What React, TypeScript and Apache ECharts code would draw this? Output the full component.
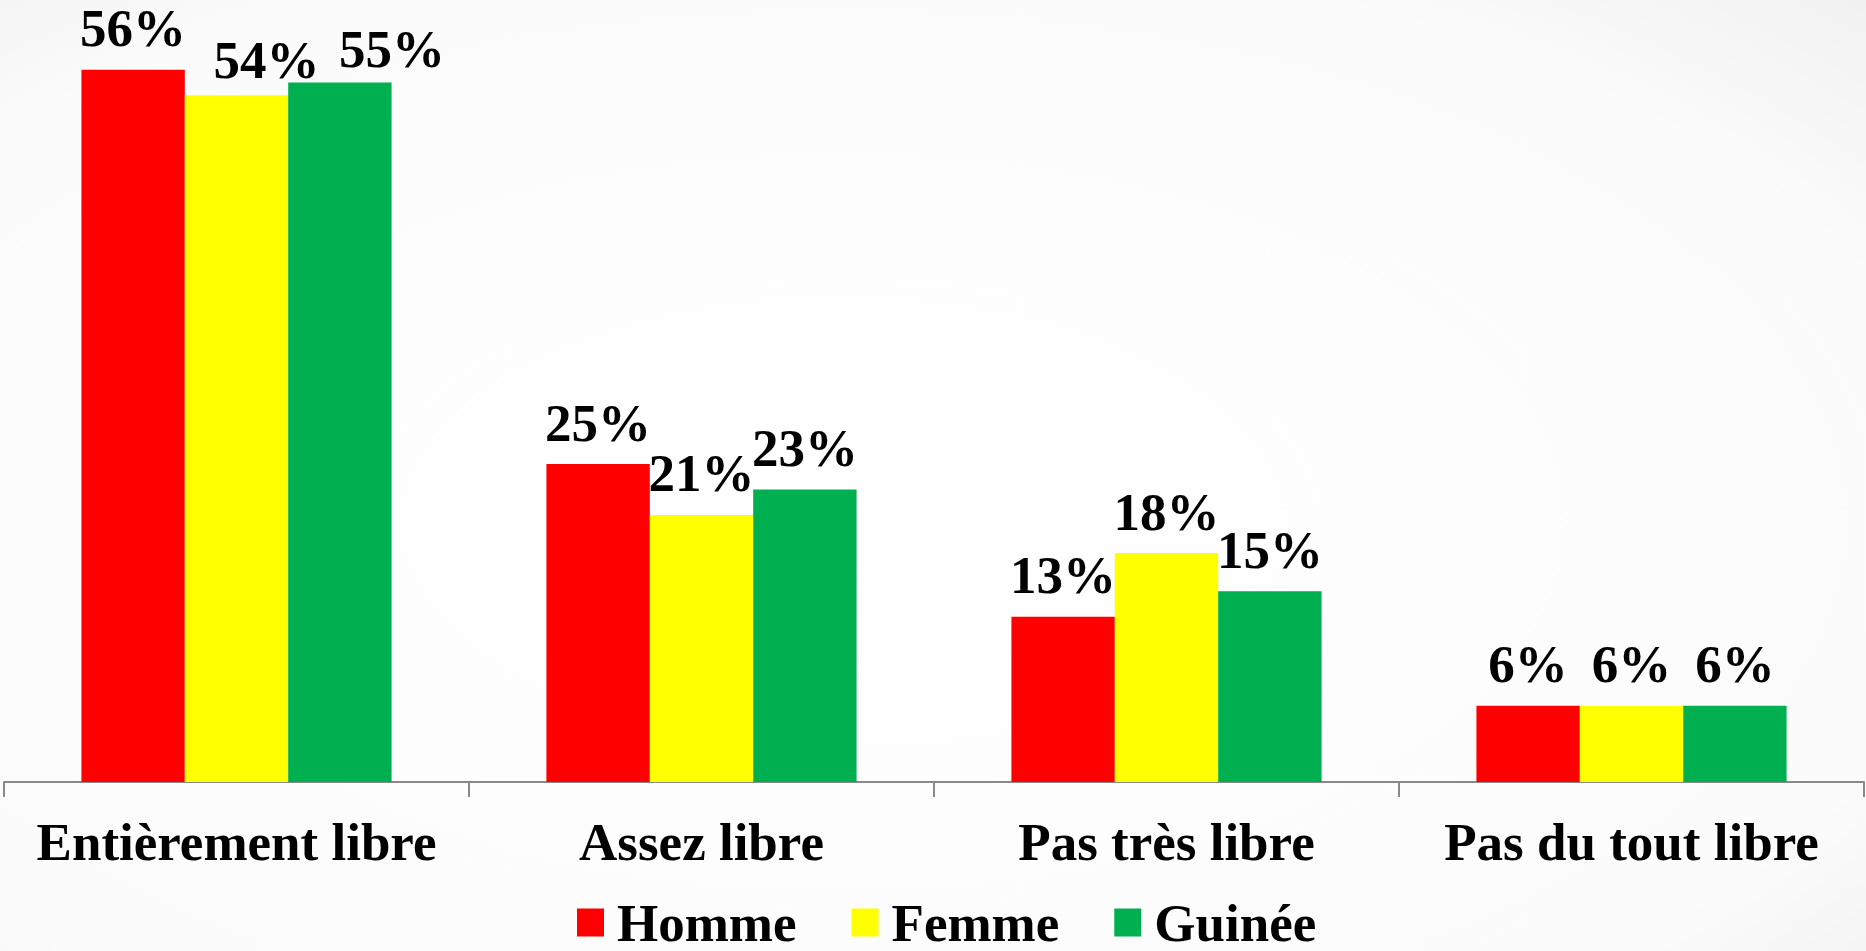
import React, { useEffect, useRef } from "react";
import * as echarts from "echarts";

const categories = ["Entièrement libre", "Assez libre", "Pas très libre", "Pas du tout libre"];
const seriesNames = ["Homme", "Femme", "Guinée"];
const homme = [56, 25, 13, 6];
const femme = [54, 21, 18, 6];
const guinee = [55, 23, 15, 6];
const colors = ["#FF0000", "#FFFF00", "#00B050"];

// manual label shifts seen in the reference (series index -> category index -> [dx, dy])
const labelShifts: Record<number, Record<number, [number, number]>> = {
  1: { 0: [30, 6] },
  2: { 0: [52, 8] },
};

const FONT = "'Liberation Serif', 'Times New Roman', serif";

export default function App() {
  const ref = useRef<HTMLDivElement>(null);
  useEffect(() => {
    document.body.style.margin = "0";
    if (!ref.current) return;
    const chart = echarts.init(ref.current, undefined, { renderer: "svg" });
    const all = [homme, femme, guinee];
    const series = all.map((vals, si) => ({
      name: seriesNames[si],
      type: "bar",
      barGap: "0%",
      barCategoryGap: "33.3%",
      itemStyle: { color: colors[si] },
      label: {
        show: true,
        position: "top",
        distance: 15,
        formatter: "{c}%",
        color: "#000",
        fontFamily: FONT,
        fontWeight: "bold",
        fontSize: 53,
      },
      data: vals.map((v, ci) => {
        const sh = labelShifts[si]?.[ci];
        return sh ? { value: v, label: { offset: sh } } : { value: v };
      }),
    }));
    chart.setOption({
      animation: false,
      backgroundColor: {
        type: "radial",
        x: 0.45,
        y: 0.55,
        r: 1.1,
        colorStops: [
          { offset: 0, color: "#ffffff" },
          { offset: 0.55, color: "#fbfbfb" },
          { offset: 1, color: "#dedede" },
        ],
      },
      legend: {
        left: 572,
        top: 891,
        itemWidth: 27,
        itemHeight: 28,
        itemGap: 55,
        icon: "rect",
        textStyle: {
          fontFamily: FONT,
          fontWeight: "bold",
          fontSize: 53,
          lineHeight: 44,
          color: "#000",
          padding: [0, 0, 0, 8],
        },
        data: seriesNames,
      },
      grid: { left: 4, right: 2, top: 19, bottom: 169, containLabel: false },
      xAxis: {
        type: "category",
        data: categories,
        axisLine: { show: true, lineStyle: { color: "#898989", width: 2 } },
        axisTick: { show: true, length: 15, interval: 0, lineStyle: { color: "#898989", width: 2 } },
        axisLabel: {
          interval: 0,
          margin: 33,
          color: "#000",
          fontFamily: FONT,
          fontWeight: "bold",
          fontSize: 53,
        },
      },
      yAxis: {
        type: "value",
        min: 0,
        max: 60,
        show: false,
        splitLine: { show: false },
      },
      series,
    });
    return () => chart.dispose();
  }, []);
  return <div ref={ref} style={{ width: 1866, height: 951 }} />;
}
